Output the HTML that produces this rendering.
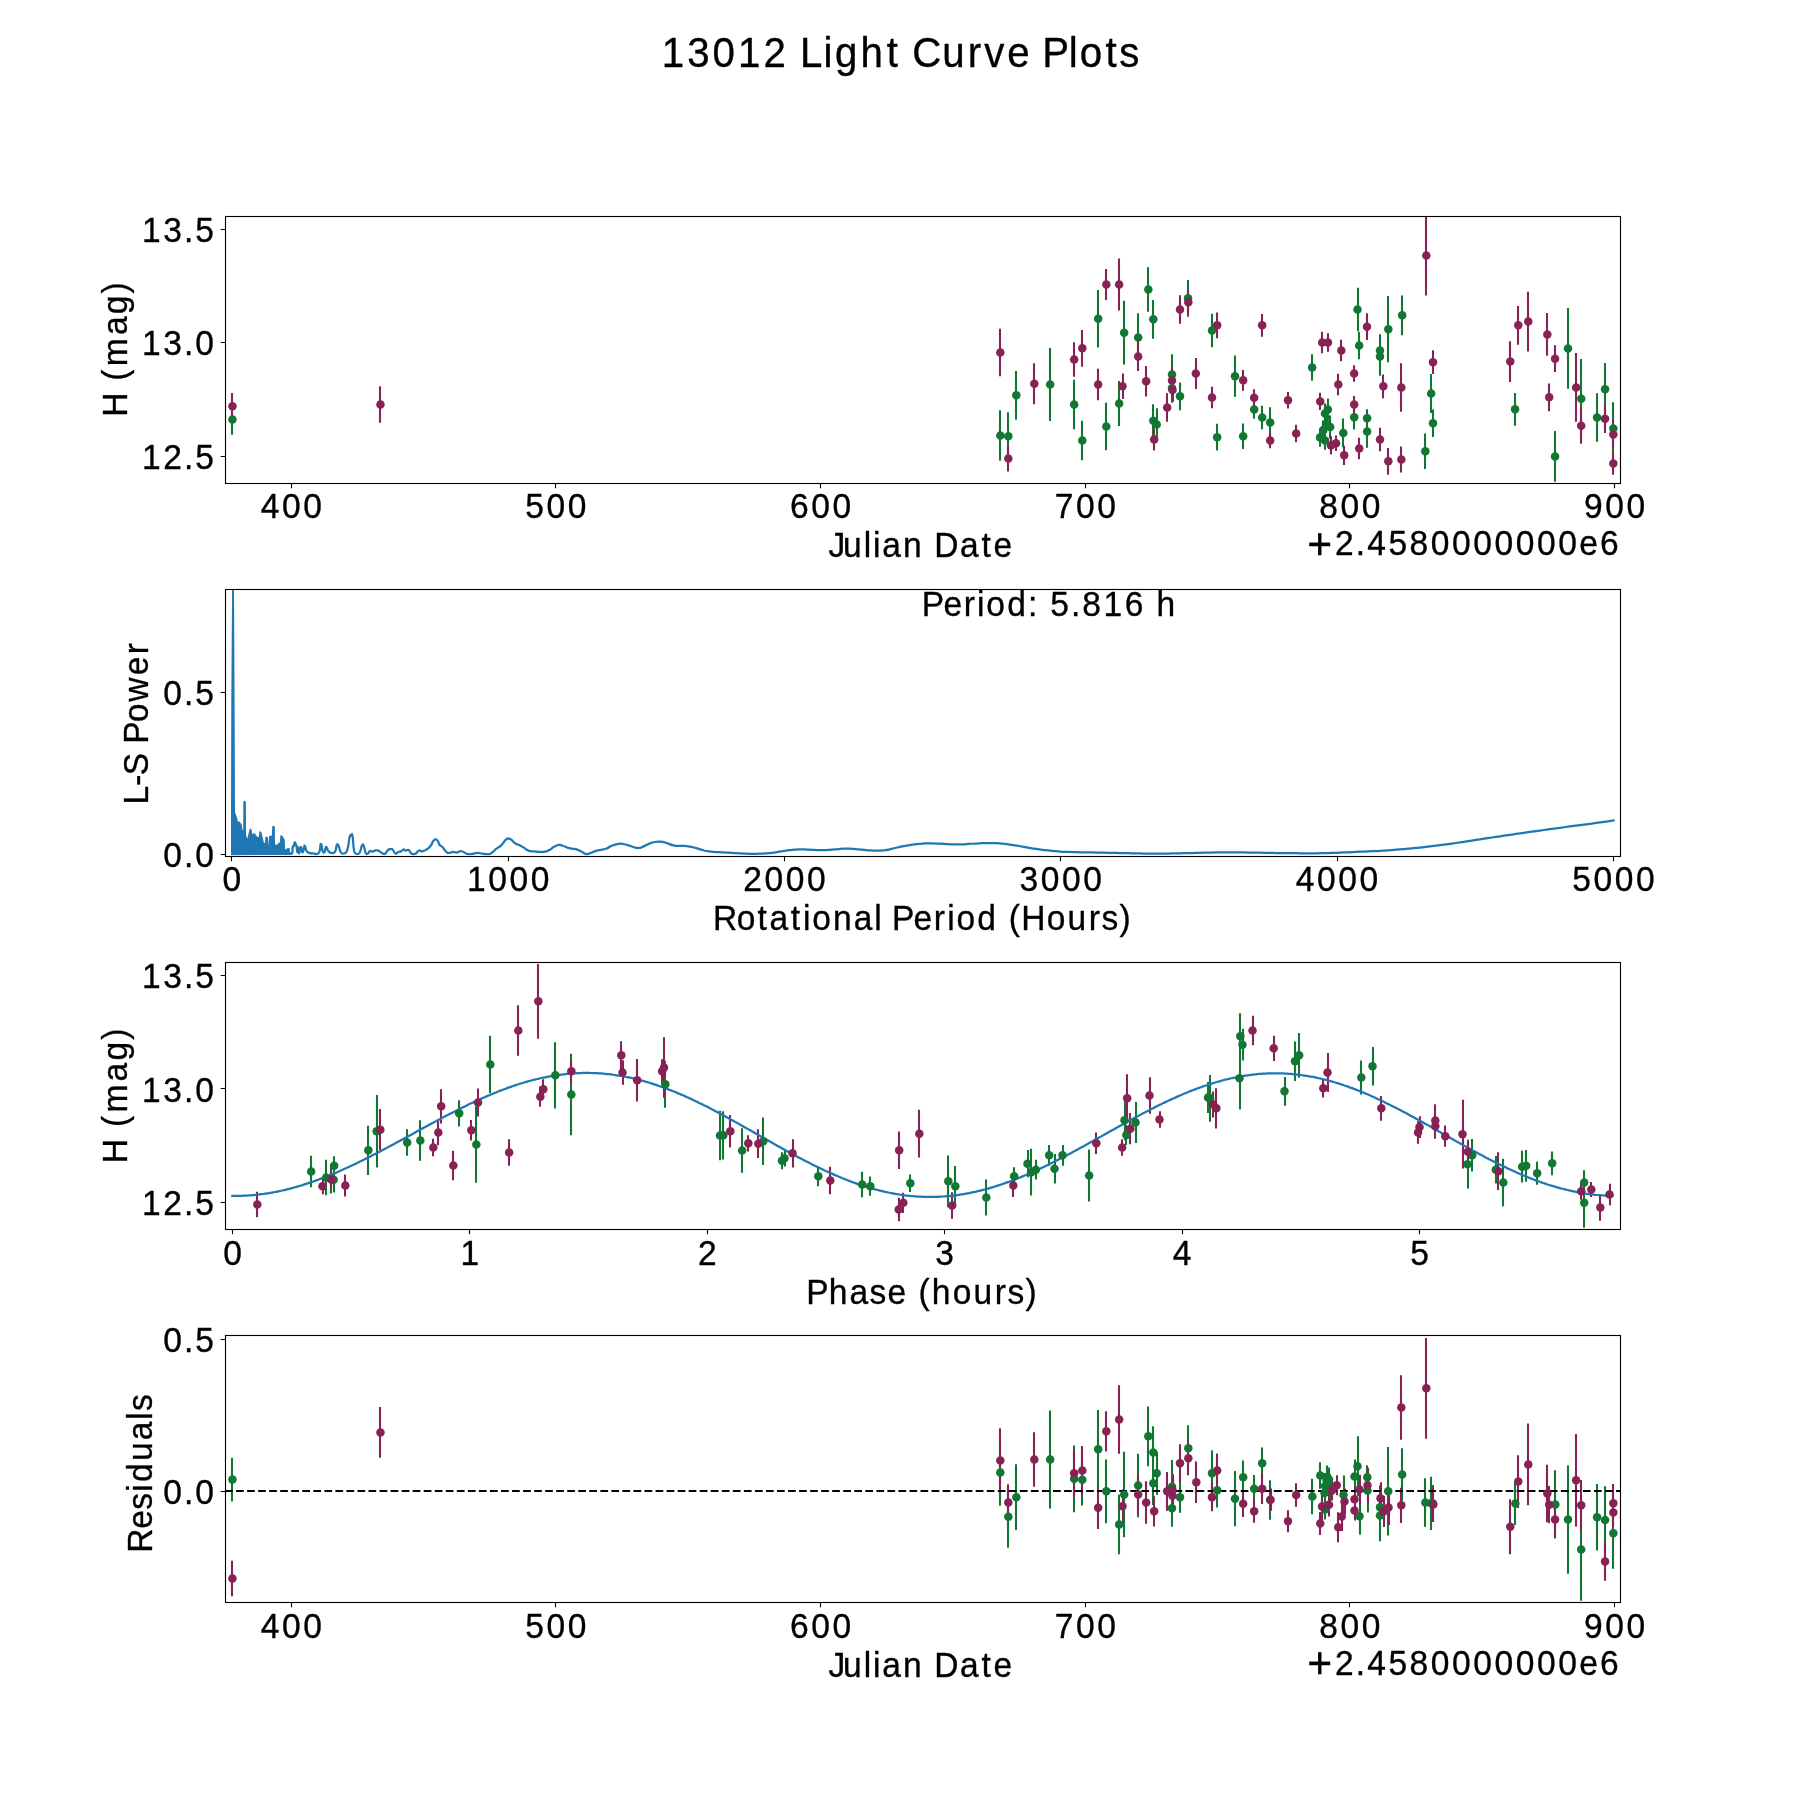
<!DOCTYPE html>
<html lang="en"><head><meta charset="utf-8"><title>13012 Light Curve Plots</title>
<style>html,body{margin:0;padding:0;background:#fff}svg{display:block;will-change:transform}text{font-family:"Liberation Sans",sans-serif;fill:#000;stroke:#000;stroke-width:.35px}</style></head><body>
<svg width="1800" height="1800" viewBox="0 0 1800 1800">
<rect width="1800" height="1800" fill="#fff"/>
<defs>
<clipPath id="c0"><rect x="225" y="216" width="1395" height="266.54"/></clipPath>
<clipPath id="c1"><rect x="225" y="589.15" width="1395" height="266.54"/></clipPath>
<clipPath id="c2"><rect x="225" y="962.31" width="1395" height="266.54"/></clipPath>
<clipPath id="c3"><rect x="225" y="1335.46" width="1395" height="266.54"/></clipPath>
</defs>
<g clip-path="url(#c0)">
<path d="M1000 410.25V460.75M1008 412.16V460.5M1016 370.91V419.75M1050 348V421M1074 379.67V429.33M1082 420.83V460.17M1098 289.92V347.42M1106 402.75V450.25M1119 381V426M1124 300.84V364.5M1138 313.33V361.67M1148 267.25V311.75M1153 300V338.66M1153 404.16V437.5M1157 408.25V440.75M1172 354.17V394.83M1172 373.83V402.83M1180 382.41V410.25M1188 280V316.66M1212 313.67V347.33M1217 423.84V450.5M1235 355.5V396.84M1243 423.58V449.08M1254 400.17V418.83M1262 405.75V429.25M1270 407.17V437.83M1312 354.17V380.83M1358 287.67V331.33M1359 331.67V359.33M1380 334.17V366.83M1380 337.17V375.83M1388 296V362.34M1402 295.5V335.16M1425 433.58V469.08M1431 373.92V413.08M1433 409.58V437.08M1328 398.4V420.4M1325 403.5V423.5M1330 415.4V438.6M1326 415V433M1323 420.4V439.6M1320 428.2V446.8M1325 431.4V449.8M1343 418.6V447.2M1354 405.1V429.5M1367 409.2V427.4M1367 415.3V447.7M1515 393V425.66M1555 430.93V481.87M1568 308V388.8M1581 359.07V438.27M1597 393.33V441.87M1605 363.06V415.6M1613 402.13V454.67M232 404.2V434.8" stroke="#117733" stroke-width="2.08" fill="none"/>
<path d="M1000 328.75V376.25M1008 445.58V471.42M1034 363.17V404.17M1074 342.25V376.75M1082 330V366.66M1098 368.83V400.17M1106 269.08V299.92M1119 258.5V310.5M1123 373.58V399.08M1138 341.92V371.08M1146 366.08V396.58M1154 428.42V450.58M1167 393.17V421.83M1172 366.67V394.33M1173 378.33V401.67M1180 295.17V323.83M1188 289.67V314.67M1196 358V389M1212 386.67V408.33M1217 312.5V338.16M1243 369.91V390.75M1254 389.17V406.17M1262 313.91V336.75M1270 432.67V448.33M1288 392.08V408.58M1296 424.75V442.25M1322 331.83V353.17M1328 333.17V351.83M1338 373.83V395.17M1341 339.67V361.33M1344 445.66V465M1354 365.17V381.83M1367 313.34V340M1380 427.83V451.17M1383 374.5V398.16M1388 448V474.66M1401 363.17V411.83M1401 446.58V472.42M1426 215.5V295.5M1433 350.34V374M1320 392.75V410.05M1331 436.2V454.6M1336 435.6V451M1354 396.1V412.7M1359 437.7V459.3M1510 341.2V382M1518 306V344.66M1528 291.67V351.53M1547 313.07V355.73M1549 383.53V411.13M1555 345.34V372M1576 353.07V421.87M1581 407.73V443.73M1605 404.4V432.94M1613 420V448.8M1613 452.53V474.67M232 393V419.6M380 386.2V422.8" stroke="#882255" stroke-width="2.08" fill="none"/>
<g fill="#117733"><circle cx="1000.33" cy="435.5" r="4.25"/><circle cx="1008.33" cy="436.33" r="4.25"/><circle cx="1016.33" cy="395.33" r="4.25"/><circle cx="1050.17" cy="384.5" r="4.25"/><circle cx="1074.17" cy="404.5" r="4.25"/><circle cx="1082.33" cy="440.5" r="4.25"/><circle cx="1098.17" cy="318.67" r="4.25"/><circle cx="1106.33" cy="426.5" r="4.25"/><circle cx="1119.17" cy="403.5" r="4.25"/><circle cx="1124.17" cy="332.67" r="4.25"/><circle cx="1138.17" cy="337.5" r="4.25"/><circle cx="1148.33" cy="289.5" r="4.25"/><circle cx="1153.33" cy="319.33" r="4.25"/><circle cx="1153.33" cy="420.83" r="4.25"/><circle cx="1156.67" cy="424.5" r="4.25"/><circle cx="1172" cy="374.5" r="4.25"/><circle cx="1172" cy="388.33" r="4.25"/><circle cx="1180" cy="396.33" r="4.25"/><circle cx="1188" cy="298.33" r="4.25"/><circle cx="1212" cy="330.5" r="4.25"/><circle cx="1217.17" cy="437.17" r="4.25"/><circle cx="1235" cy="376.17" r="4.25"/><circle cx="1243.17" cy="436.33" r="4.25"/><circle cx="1254.17" cy="409.5" r="4.25"/><circle cx="1262.17" cy="417.5" r="4.25"/><circle cx="1270.17" cy="422.5" r="4.25"/><circle cx="1312.17" cy="367.5" r="4.25"/><circle cx="1357.5" cy="309.5" r="4.25"/><circle cx="1359.17" cy="345.5" r="4.25"/><circle cx="1380" cy="350.5" r="4.25"/><circle cx="1380" cy="356.5" r="4.25"/><circle cx="1388.33" cy="329.17" r="4.25"/><circle cx="1402.17" cy="315.33" r="4.25"/><circle cx="1425.33" cy="451.33" r="4.25"/><circle cx="1431.17" cy="393.5" r="4.25"/><circle cx="1433" cy="423.33" r="4.25"/><circle cx="1327.9" cy="409.4" r="4.25"/><circle cx="1325" cy="413.5" r="4.25"/><circle cx="1330.2" cy="427" r="4.25"/><circle cx="1326" cy="424" r="4.25"/><circle cx="1323.3" cy="430" r="4.25"/><circle cx="1320" cy="437.5" r="4.25"/><circle cx="1325" cy="440.6" r="4.25"/><circle cx="1343.3" cy="432.9" r="4.25"/><circle cx="1354.2" cy="417.3" r="4.25"/><circle cx="1367.1" cy="418.3" r="4.25"/><circle cx="1367.1" cy="431.5" r="4.25"/><circle cx="1515.07" cy="409.33" r="4.25"/><circle cx="1555.07" cy="456.4" r="4.25"/><circle cx="1568" cy="348.4" r="4.25"/><circle cx="1581.2" cy="398.67" r="4.25"/><circle cx="1597.07" cy="417.6" r="4.25"/><circle cx="1605.07" cy="389.33" r="4.25"/><circle cx="1613.33" cy="428.4" r="4.25"/><circle cx="232.45" cy="419.5" r="4.25"/></g>
<g fill="#882255"><circle cx="1000.33" cy="352.5" r="4.25"/><circle cx="1008.33" cy="458.5" r="4.25"/><circle cx="1034.33" cy="383.67" r="4.25"/><circle cx="1074.17" cy="359.5" r="4.25"/><circle cx="1082.33" cy="348.33" r="4.25"/><circle cx="1098.17" cy="384.5" r="4.25"/><circle cx="1106.33" cy="284.5" r="4.25"/><circle cx="1119.17" cy="284.5" r="4.25"/><circle cx="1122.5" cy="386.33" r="4.25"/><circle cx="1138.17" cy="356.5" r="4.25"/><circle cx="1146.17" cy="381.33" r="4.25"/><circle cx="1154.17" cy="439.5" r="4.25"/><circle cx="1167.17" cy="407.5" r="4.25"/><circle cx="1172" cy="380.5" r="4.25"/><circle cx="1172.5" cy="390" r="4.25"/><circle cx="1180" cy="309.5" r="4.25"/><circle cx="1188.33" cy="302.17" r="4.25"/><circle cx="1195.83" cy="373.5" r="4.25"/><circle cx="1212" cy="397.5" r="4.25"/><circle cx="1217.17" cy="325.33" r="4.25"/><circle cx="1243.17" cy="380.33" r="4.25"/><circle cx="1254.17" cy="397.67" r="4.25"/><circle cx="1262.17" cy="325.33" r="4.25"/><circle cx="1270.17" cy="440.5" r="4.25"/><circle cx="1288" cy="400.33" r="4.25"/><circle cx="1296.17" cy="433.5" r="4.25"/><circle cx="1322.17" cy="342.5" r="4.25"/><circle cx="1328" cy="342.5" r="4.25"/><circle cx="1338.33" cy="384.5" r="4.25"/><circle cx="1341.33" cy="350.5" r="4.25"/><circle cx="1344.17" cy="455.33" r="4.25"/><circle cx="1354.17" cy="373.5" r="4.25"/><circle cx="1367" cy="326.67" r="4.25"/><circle cx="1380" cy="439.5" r="4.25"/><circle cx="1383.33" cy="386.33" r="4.25"/><circle cx="1388.33" cy="461.33" r="4.25"/><circle cx="1401.33" cy="387.5" r="4.25"/><circle cx="1401.33" cy="459.5" r="4.25"/><circle cx="1426.33" cy="255.5" r="4.25"/><circle cx="1433" cy="362.17" r="4.25"/><circle cx="1320.25" cy="401.4" r="4.25"/><circle cx="1331" cy="445.4" r="4.25"/><circle cx="1336" cy="443.3" r="4.25"/><circle cx="1354.2" cy="404.4" r="4.25"/><circle cx="1359.2" cy="448.5" r="4.25"/><circle cx="1510.27" cy="361.6" r="4.25"/><circle cx="1518.27" cy="325.33" r="4.25"/><circle cx="1528.27" cy="321.6" r="4.25"/><circle cx="1547.33" cy="334.4" r="4.25"/><circle cx="1549.2" cy="397.33" r="4.25"/><circle cx="1555.07" cy="358.67" r="4.25"/><circle cx="1576.13" cy="387.47" r="4.25"/><circle cx="1581.2" cy="425.73" r="4.25"/><circle cx="1605.07" cy="418.67" r="4.25"/><circle cx="1613.33" cy="434.4" r="4.25"/><circle cx="1613.33" cy="463.6" r="4.25"/><circle cx="232.45" cy="406.3" r="4.25"/><circle cx="380.45" cy="404.5" r="4.25"/></g>
</g>
<g clip-path="url(#c1)">
<path d="M231 855.2L231 808L231.3 700L232.1 588L234 588L234.6 700L235 812.22L236.67 816.67L238.06 821.67L239.44 821.39L241.67 824.44L242.5 829.72L243.22 829.72L243.33 801.94L243.89 801L244.56 800.83L245.22 801L245.89 801.94L246 834.44L247.22 838.89L248.33 834.44L249.44 829.44L250.56 828.61L251.67 829.44L252.22 833.89L254.44 833.06L257.22 836.67L258.89 836.94L259.17 832.22L260.28 831.11L261.39 832.22L262.22 835.56L263.89 842.78L265 843.06L265.28 837.5L266.39 836.39L268.06 837.5L268.33 846.11L269.17 836.11L271.94 835.56L272.22 826.67L273.5 825.56L274.83 826.67L275 843.89L276.67 845L278.89 842.78L280 842.22L280.28 836.11L281.39 835L283.33 837.22L284.72 840L285 846.67L285.56 849.72L287.78 848.06L289.44 848.06L290 851.94L290 854.89 Z" fill="#1f77b4" stroke="none"/>
<path d="M290 853.22C290.59 853.19 291.51 854.74 292.22 853.11C292.93 851.48 292.22 849.01 292.67 847.11C293.11 845.21 293.34 847.26 293.89 846C294.44 844.74 294.2 842.8 294.72 842.39C295.24 841.97 295.31 843.21 295.83 844.44C296.35 845.67 296.3 844.96 296.67 847C297.04 849.04 296.99 851.79 297.22 852.11C297.46 852.44 297.38 849.44 297.56 848.22C297.73 847.01 297.65 846.52 297.89 847.56C298.13 848.59 298.03 850.75 298.44 852.11C298.86 853.47 298.96 853.88 299.44 852.67C299.93 851.45 299.69 848.71 300.28 847.56C300.87 846.4 301.12 847.04 301.67 848.33C302.21 849.62 301.74 852.15 302.33 852.39C302.93 852.63 303.25 851.03 303.89 849.22C304.53 847.41 304 845.14 304.72 845.61C305.45 846.09 305.35 849.06 306.61 851C307.87 852.94 307.68 852.24 309.44 852.89C311.21 853.54 310.7 853.46 313.22 853.46C315.74 853.46 316.87 855.46 318.89 852.89C320.9 850.32 319.77 844.33 320.78 843.82C321.79 843.32 321.66 848.84 322.67 851C323.67 853.17 323.65 853.05 324.56 851.95C325.46 850.84 325.06 847.1 326.07 846.85C327.07 846.59 326.97 849.39 328.33 851C329.69 852.61 329.4 852.64 331.17 852.89C332.93 853.14 333.43 854.06 334.95 851.95C336.46 849.83 335.83 846.47 336.83 844.96C337.84 843.45 337.72 844.42 338.72 846.28C339.73 848.14 339.35 850.03 340.61 851.95C341.87 853.86 341.68 853.96 343.45 853.46C345.21 852.95 345.61 854.24 347.22 850.06C348.84 845.88 348.48 841.66 349.49 837.78C350.5 833.9 350.2 836.02 351 835.51C351.81 835.01 351.76 832.26 352.51 835.89C353.27 839.52 352.98 844.43 353.83 849.11C354.69 853.8 354.21 852.45 355.72 853.46C357.23 854.46 357.84 855.06 359.5 852.89C361.16 850.72 360.8 847.1 361.96 845.33C363.12 843.57 362.84 844.26 363.85 846.28C364.85 848.29 364.63 850.98 365.73 852.89C366.84 854.8 366.89 853.96 368 853.46C369.11 852.95 368.63 851.5 369.89 851C371.15 850.5 371.21 851.72 372.72 851.57C374.23 851.42 374.05 850.69 375.56 850.43C377.07 850.18 376.88 850.07 378.39 850.62C379.9 851.18 379.46 851.66 381.22 852.51C382.99 853.37 383.24 854.49 385 853.83C386.76 853.18 386.32 851.32 387.84 850.06C389.35 848.8 389.41 849.26 390.67 849.11C391.93 848.96 391.3 848.33 392.56 849.49C393.82 850.65 393.88 852.8 395.39 853.46C396.9 854.11 396.71 852.5 398.22 851.95C399.74 851.39 399.65 852.03 401.06 851.38C402.47 850.72 402.25 849.69 403.51 849.49C404.77 849.29 404.42 850.47 405.78 850.62C407.14 850.77 407.1 849.3 408.61 850.06C410.12 850.81 409.68 852.45 411.45 853.46C413.21 854.46 413.21 854.64 415.22 853.83C417.24 853.03 417.24 851.09 419 850.43C420.77 849.78 420.07 851.48 421.84 851.38C423.6 851.28 423.35 851.42 425.61 850.06C427.88 848.7 428.32 848.65 430.34 846.28C432.35 843.91 431.81 843.04 433.17 841.18C434.53 839.31 434.28 839.44 435.44 839.29C436.59 839.14 436.36 839.1 437.51 840.61C438.67 842.12 438.42 843.19 439.78 844.96C441.14 846.72 440.85 845.36 442.61 847.22C444.38 849.09 444.63 850.43 446.39 851.95C448.16 853.46 447.46 852.89 449.23 852.89C450.99 852.89 450.99 852.05 453 851.95C455.02 851.84 454.77 852.71 456.78 852.51C458.8 852.31 458.8 851.34 460.56 851.19C462.32 851.04 461.63 851.24 463.39 851.95C465.16 852.65 464.9 853.28 467.17 853.83C469.44 854.39 469.12 854.28 471.89 854.02C474.66 853.77 474.79 852.99 477.56 852.89C480.33 852.79 479.76 853.34 482.28 853.65C484.8 853.95 484.74 854.07 487 854.02C489.27 853.97 488.26 854.87 490.78 853.46C493.3 852.05 493.68 850.9 496.45 848.73C499.22 846.57 498.65 847.75 501.17 845.33C503.69 842.92 503.98 841.48 505.89 839.67C507.81 837.85 506.94 838.53 508.35 838.53C509.76 838.53 509.32 838.36 511.18 839.67C513.05 840.98 513.22 842.04 515.34 843.45C517.45 844.86 516.85 843.85 519.12 844.96C521.38 846.06 521.32 846.09 523.84 847.6C526.36 849.11 525.79 849.62 528.56 850.62C531.33 851.63 531.21 851.03 534.23 851.38C537.25 851.73 536.87 851.9 539.89 851.95C542.92 852 543.04 852.07 545.56 851.57C548.08 851.06 547.07 851.32 549.34 850.06C551.61 848.8 551.54 848.21 554.06 846.85C556.58 845.49 556.52 845.26 558.78 844.96C561.05 844.65 560.29 845.01 562.56 845.71C564.83 846.42 564.77 846.8 567.28 847.6C569.8 848.41 569.74 848.33 572.01 848.73C574.27 849.14 573.52 848.51 575.78 849.11C578.05 849.72 577.99 849.74 580.51 851C583.02 852.26 582.96 853.13 585.23 853.83C587.5 854.54 586.49 854.3 589.01 853.65C591.52 852.99 591.9 852.34 594.67 851.38C597.44 850.42 596.37 850.76 599.4 850.06C602.42 849.35 602.73 849.89 606.01 848.73C609.28 847.58 608.4 847.02 611.67 845.71C614.95 844.4 615.26 844.28 618.28 843.82C621.31 843.37 620.24 843.61 623.01 844.01C625.78 844.42 625.8 844.48 628.67 845.33C631.55 846.19 631.16 846.52 633.78 847.22C636.4 847.93 635.98 848.13 638.5 847.98C641.02 847.83 639.95 847.97 643.22 846.66C646.5 845.35 646.75 844.43 650.78 843.07C654.81 841.71 654.56 841.71 658.33 841.56C662.11 841.41 660.92 841.49 664.95 842.5C668.97 843.51 669.16 844.43 673.45 845.33C677.73 846.24 676.97 845.65 681 845.9C685.03 846.15 684.53 845.67 688.56 846.28C692.59 846.88 691.99 847.05 696.11 848.17C700.23 849.29 700.56 849.62 704 850.47C707.44 851.33 706.33 850.98 709 851.37C711.67 851.75 711.33 851.7 714 851.92C716.67 852.15 716.33 852.07 719 852.22C721.67 852.37 721.33 852.35 724 852.49C726.67 852.63 726.33 852.6 729 852.74C731.67 852.88 731.33 852.86 734 853.02C736.67 853.18 736.33 853.19 739 853.36C741.67 853.53 741.33 853.55 744 853.66C746.67 853.77 746.33 853.72 749 853.76C751.67 853.8 751.33 853.83 754 853.81C756.67 853.8 756.33 853.79 759 853.71C761.67 853.63 761.33 853.67 764 853.51C766.67 853.34 766.33 853.37 769 853.1C771.67 852.84 771.33 852.89 774 852.52C776.67 852.15 776.33 852.14 779 851.72C781.67 851.29 781.33 851.35 784 850.92C786.67 850.49 786.33 850.45 789 850.11C791.67 849.78 791.33 849.86 794 849.66C796.67 849.46 796.33 849.41 799 849.35C801.67 849.3 801.33 849.38 804 849.46C806.67 849.54 806.33 849.54 809 849.66C811.67 849.78 811.33 849.77 814 849.91C816.67 850.04 816.33 850.11 819 850.17C821.67 850.23 821.33 850.18 824 850.12C826.67 850.05 826.33 850.1 829 849.93C831.67 849.76 831.33 849.73 834 849.49C836.67 849.25 836.33 849.23 839 849.03C841.67 848.83 841.33 848.84 844 848.74C846.67 848.64 846.33 848.59 849 848.65C851.67 848.71 851.33 848.77 854 848.95C856.67 849.14 856.33 849.1 859 849.34C861.67 849.58 861.33 849.59 864 849.85C866.67 850.1 866.33 850.1 869 850.31C871.67 850.51 871.33 850.5 874 850.61C876.67 850.71 876.33 850.78 879 850.69C881.67 850.61 881.33 850.59 884 850.29C886.67 849.98 886.33 850.08 889 849.54C891.67 849.01 891.33 848.93 894 848.28C896.67 847.62 897.4 847.46 899 847.09C900.6 846.72 897.6 847.35 900 846.88C902.4 846.41 903.73 846.04 908 845.32C912.27 844.59 911.73 844.64 916 844.15C920.27 843.66 919.73 843.7 924 843.48C928.27 843.27 927.73 843.3 932 843.35C936.27 843.4 935.73 843.45 940 843.67C944.27 843.89 943.73 843.95 948 844.16C952.27 844.38 951.73 844.45 956 844.48C960.27 844.51 959.73 844.46 964 844.27C968.27 844.07 967.73 844.02 972 843.75C976.27 843.49 975.73 843.46 980 843.27C984.27 843.07 983.73 843.04 988 843.03C992.27 843.01 991.73 842.99 996 843.21C1000.27 843.44 999.73 843.42 1004 843.88C1008.27 844.34 1007.73 844.31 1012 844.94C1016.27 845.57 1015.73 845.53 1020 846.24C1024.27 846.95 1023.73 846.9 1028 847.61C1032.27 848.33 1031.73 848.27 1036 848.93C1040.27 849.58 1039.73 849.52 1044 850.06C1048.27 850.59 1047.73 850.54 1052 850.93C1056.27 851.32 1055.73 851.27 1060 851.53C1064.27 851.79 1063.73 851.74 1068 851.91C1072.27 852.07 1071.73 852.04 1076 852.15C1080.27 852.27 1079.73 852.25 1084 852.33C1088.27 852.42 1087.73 852.4 1092 852.48C1096.27 852.56 1095.73 852.55 1100 852.63C1104.27 852.72 1103.73 852.71 1108 852.81C1112.27 852.9 1111.73 852.89 1116 852.98C1120.27 853.07 1119.73 853.06 1124 853.15C1128.27 853.23 1127.73 853.22 1132 853.3C1136.27 853.38 1135.73 853.38 1140 853.45C1144.27 853.52 1143.73 853.52 1148 853.57C1152.27 853.61 1151.73 853.61 1156 853.61C1160.27 853.61 1159.73 853.6 1164 853.56C1168.27 853.52 1167.73 853.53 1172 853.46C1176.27 853.4 1175.73 853.4 1180 853.32C1184.27 853.23 1183.73 853.24 1188 853.14C1192.27 853.04 1191.73 853.04 1196 852.94C1200.27 852.84 1199.73 852.84 1204 852.74C1208.27 852.64 1207.73 852.65 1212 852.56C1216.27 852.48 1215.73 852.48 1220 852.42C1224.27 852.37 1223.73 852.38 1228 852.36C1232.27 852.35 1231.73 852.35 1236 852.38C1240.27 852.4 1239.73 852.4 1244 852.45C1248.27 852.51 1247.73 852.5 1252 852.58C1256.27 852.66 1255.73 852.66 1260 852.74C1264.27 852.83 1263.73 852.83 1268 852.91C1272.27 852.98 1271.73 852.98 1276 853.03C1280.27 853.09 1279.73 853.07 1284 853.1C1288.27 853.14 1287.73 853.13 1292 853.18C1296.27 853.23 1295.73 853.24 1300 853.29C1304.27 853.34 1303.73 853.35 1308 853.35C1312.27 853.35 1311.73 853.35 1316 853.29C1320.27 853.23 1319.73 853.23 1324 853.13C1328.27 853.03 1327.73 853.04 1332 852.9C1336.27 852.76 1335.73 852.78 1340 852.6C1344.27 852.43 1343.73 852.44 1348 852.26C1352.27 852.07 1351.73 852.09 1356 851.91C1360.27 851.72 1359.73 851.75 1364 851.57C1368.27 851.38 1367.73 851.41 1372 851.21C1376.27 851 1375.73 851.04 1380 850.79C1384.27 850.55 1383.73 850.58 1388 850.3C1392.27 850.01 1391.73 850.05 1396 849.72C1400.27 849.39 1399.73 849.43 1404 849.06C1408.27 848.69 1407.73 848.75 1412 848.33C1416.27 847.92 1415.73 847.98 1420 847.52C1424.27 847.06 1423.73 847.12 1428 846.62C1432.27 846.13 1431.73 846.19 1436 845.66C1440.27 845.13 1439.73 845.2 1444 844.64C1448.27 844.08 1447.73 844.16 1452 843.56C1456.27 842.97 1455.73 843.04 1460 842.41C1464.27 841.78 1463.73 841.85 1468 841.19C1472.27 840.53 1471.73 840.61 1476 839.95C1480.27 839.29 1479.73 839.37 1484 838.72C1488.27 838.07 1487.73 838.16 1492 837.51C1496.27 836.87 1495.73 836.95 1500 836.31C1504.27 835.67 1503.73 835.75 1508 835.12C1512.27 834.48 1511.73 834.56 1516 833.94C1520.27 833.31 1519.73 833.39 1524 832.78C1528.27 832.18 1527.73 832.26 1532 831.66C1536.27 831.07 1535.73 831.15 1540 830.56C1544.27 829.97 1543.73 830.04 1548 829.46C1552.27 828.87 1551.73 828.94 1556 828.36C1560.27 827.77 1559.73 827.84 1564 827.26C1568.27 826.67 1567.73 826.74 1572 826.17C1576.27 825.59 1575.73 825.66 1580 825.09C1584.27 824.53 1583.73 824.61 1588 824.04C1592.27 823.48 1591.73 823.56 1596 822.97C1600.27 822.39 1599.73 822.46 1604 821.85C1608.27 821.24 1609.35 821.08 1612 820.69C1614.65 820.3 1613.43 820.48 1613.95 820.4" fill="none" stroke="#1f77b4" stroke-width="2.25" stroke-linejoin="round" stroke-linecap="butt"/>
</g>
<g clip-path="url(#c2)">
<path d="M311 1155.83V1187.17M326 1159.75V1195.25M334 1156.33V1175.33M334 1166.84V1192.5M368 1125.66V1175M377 1095.08V1167.58M407 1129.17V1155.83M420 1120.25V1160.75M459 1100.16V1126.5M476 1106.17V1182.83M490 1035.75V1093.25M331 1164V1193.6M555 1042.25V1108.41M571 1053.83V1135.17M665 1060.67V1107.67M720 1110.83V1160.17M723 1111.16V1159.5M742 1128.25V1172.75M763 1117.42V1164.92M782 1152.33V1169.33M785 1150.25V1166.41M818 1166.33V1186.33M862 1171.75V1197.25M870 1176.5V1195.84M910 1174.58V1192.08M948 1155.5V1207.16M955 1166.08V1206.58M986 1179.58V1215.42M1014 1167.16V1185.5M1028 1150V1177.34M1031 1148.84V1195.5M1036 1159.84V1179.5M1049 1144.91V1165.75M1055 1153.92V1183.42M1063 1144.91V1165.75M1089 1149.42V1201.58M1125 1100.33V1140.33M1126 1125V1145M1136 1102.08V1142.92M1208 1082.08V1112.92M1210 1075V1121.66M1240 1047.08V1109.58M1240 1013.33V1059.33M1243 1028.84V1060.5M1285 1077V1105.66M1295 1041.58V1081.08M1299 1032.91V1077.75M1361 1060.58V1094.42M1373 1047.08V1085.58M1468 1139.84V1188.5M1472 1139.08V1171.58M1496 1155.92V1183.42M1503 1158.75V1206.25M1522 1150.84V1182.5M1526 1150V1181.66M1537 1161.83V1184.83M1552 1151.41V1175.25M1584 1170.33V1194.67M1584 1177.83V1227.83" stroke="#117733" stroke-width="2.08" fill="none"/>
<path d="M257 1191.75V1217.25M323 1178V1194.34M331 1170.75V1188.25M345 1174.42V1196.58M380 1109V1150.34M433 1138.75V1156.25M438 1119.75V1145.25M441 1089.25V1123.41M453 1150.67V1180.33M471 1120.08V1140.58M478 1088.5V1116.5M509 1139.17V1165.83M518 1005.25V1055.75M538 964V1038.66M540 1086.67V1106.67M543 1079.17V1099.17M571 1059.91V1082.75M621 1041.33V1069.33M623 1060.33V1084.67M637 1059.08V1101.58M662 1059.16V1083.5M664 1037.33V1097.67M730 1115.08V1147.58M748 1135.16V1151.5M758 1129.34V1158M793 1139.16V1167.5M830 1166.67V1194.33M899 1131.58V1169.08M899 1197.67V1221.33M903 1192.66V1213M919 1109.75V1157.59M952 1192.25V1218.75M1013 1174V1197M1096 1132.58V1154.08M1122 1139.17V1155.83M1127 1074.16V1122.5M1130 1113.09V1144.25M1150 1077.17V1113.83M1160 1111.25V1127.75M1213 1091.42V1117.58M1216 1088.16V1128.5M1253 1015.67V1045.33M1274 1035.75V1060.91M1323 1079.16V1097.5M1328 1053.08V1091.92M1381 1096V1120.66M1418 1121.17V1143.83M1420 1116.34V1138M1435 1104.17V1136.83M1435 1113.83V1138.83M1445 1125.5V1146.84M1463 1099.84V1168.5M1468 1141.67V1161.67M1498 1152.25V1190.09M1581 1182.67V1199.67M1591 1182.08V1196.92M1600 1194.17V1220.83M1610 1183.67V1205.33" stroke="#882255" stroke-width="2.08" fill="none"/>
<path d="M231.2 1195.83C233.2 1195.84 233.2 1195.9 237.2 1195.86C241.2 1195.82 239.2 1195.87 243.2 1195.72C247.2 1195.56 245.2 1195.67 249.2 1195.39C253.2 1195.12 251.2 1195.28 255.2 1194.89C259.2 1194.5 257.2 1194.73 261.2 1194.22C265.2 1193.71 263.2 1193.99 267.2 1193.37C271.2 1192.75 269.2 1193.09 273.2 1192.36C277.2 1191.62 275.2 1192.02 279.2 1191.17C283.2 1190.33 281.2 1190.78 285.2 1189.83C289.2 1188.88 287.2 1189.38 291.2 1188.33C295.2 1187.28 293.2 1187.83 297.2 1186.67C301.2 1185.52 299.2 1186.12 303.2 1184.87C307.2 1183.62 305.2 1184.26 309.2 1182.92C313.2 1181.58 311.2 1182.27 315.2 1180.84C319.2 1179.4 317.2 1180.14 321.2 1178.62C325.2 1177.1 323.2 1177.88 327.2 1176.28C331.2 1174.68 329.2 1175.5 333.2 1173.82C337.2 1172.15 335.2 1173 339.2 1171.25C343.2 1169.51 341.2 1170.39 345.2 1168.58C349.2 1166.77 347.2 1167.69 351.2 1165.81C355.2 1163.94 353.2 1164.89 357.2 1162.95C361.2 1161.02 359.2 1162 363.2 1160.02C367.2 1158.03 365.2 1159.03 369.2 1157.01C373.2 1154.98 371.2 1156 375.2 1153.93C379.2 1151.86 377.2 1152.9 381.2 1150.8C385.2 1148.7 383.2 1149.76 387.2 1147.63C391.2 1145.5 389.2 1146.57 393.2 1144.41C397.2 1142.26 395.2 1143.34 399.2 1141.17C403.2 1139 401.2 1140.09 405.2 1137.91C409.2 1135.73 407.2 1136.82 411.2 1134.64C415.2 1132.45 413.2 1133.54 417.2 1131.36C421.2 1129.18 419.2 1130.27 423.2 1128.1C427.2 1125.92 425.2 1127 429.2 1124.85C433.2 1122.69 431.2 1123.76 435.2 1121.62C439.2 1119.48 437.2 1120.54 441.2 1118.43C445.2 1116.32 443.2 1117.36 447.2 1115.28C451.2 1113.2 449.2 1114.23 453.2 1112.19C457.2 1110.15 455.2 1111.16 459.2 1109.16C463.2 1107.16 461.2 1108.15 465.2 1106.2C469.2 1104.25 467.2 1105.21 471.2 1103.31C475.2 1101.42 473.2 1102.35 477.2 1100.52C481.2 1098.69 479.2 1099.58 483.2 1097.82C487.2 1096.05 485.2 1096.91 489.2 1095.22C493.2 1093.52 491.2 1094.35 495.2 1092.73C499.2 1091.11 497.2 1091.9 501.2 1090.36C505.2 1088.83 503.2 1089.57 507.2 1088.12C511.2 1086.67 509.2 1087.37 513.2 1086.01C517.2 1084.65 515.2 1085.3 519.2 1084.04C523.2 1082.77 521.2 1083.38 525.2 1082.21C529.2 1081.04 527.2 1081.6 531.2 1080.53C535.2 1079.47 533.2 1079.97 537.2 1079.01C541.2 1078.05 539.2 1078.5 543.2 1077.65C547.2 1076.8 545.2 1077.2 549.2 1076.46C553.2 1075.72 551.2 1076.06 555.2 1075.43C559.2 1074.81 557.2 1075.09 561.2 1074.58C565.2 1074.07 563.2 1074.29 567.2 1073.9C571.2 1073.51 569.2 1073.68 573.2 1073.4C577.2 1073.13 575.2 1073.24 579.2 1073.09C583.2 1072.94 581.2 1072.98 585.2 1072.95C589.2 1072.92 587.2 1072.91 591.2 1073C595.2 1073.09 593.2 1073.01 597.2 1073.23C601.2 1073.44 599.2 1073.31 603.2 1073.64C607.2 1073.98 605.2 1073.78 609.2 1074.24C613.2 1074.7 611.2 1074.44 615.2 1075.02C619.2 1075.6 617.2 1075.28 621.2 1075.97C625.2 1076.67 623.2 1076.29 627.2 1077.11C631.2 1077.92 629.2 1077.49 633.2 1078.42C637.2 1079.34 635.2 1078.85 639.2 1079.89C643.2 1080.93 641.2 1080.39 645.2 1081.54C649.2 1082.69 647.2 1082.09 651.2 1083.34C655.2 1084.6 653.2 1083.95 657.2 1085.31C661.2 1086.67 659.2 1085.96 663.2 1087.42C667.2 1088.88 665.2 1088.13 669.2 1089.68C673.2 1091.23 671.2 1090.43 675.2 1092.08C679.2 1093.72 677.2 1092.88 681.2 1094.6C685.2 1096.33 683.2 1095.45 687.2 1097.25C691.2 1099.06 689.2 1098.14 693.2 1100.02C697.2 1101.9 695.2 1100.94 699.2 1102.89C703.2 1104.84 701.2 1103.85 705.2 1105.86C709.2 1107.87 707.2 1106.86 711.2 1108.92C715.2 1110.99 713.2 1109.95 717.2 1112.06C721.2 1114.18 719.2 1113.11 723.2 1115.27C727.2 1117.43 725.2 1116.35 729.2 1118.54C733.2 1120.74 731.2 1119.64 735.2 1121.86C739.2 1124.09 737.2 1122.97 741.2 1125.23C745.2 1127.48 743.2 1126.35 747.2 1128.62C751.2 1130.88 749.2 1129.75 753.2 1132.03C757.2 1134.3 755.2 1133.17 759.2 1135.45C763.2 1137.72 761.2 1136.59 765.2 1138.86C769.2 1141.14 767.2 1140 771.2 1142.27C775.2 1144.53 773.2 1143.41 777.2 1145.65C781.2 1147.89 779.2 1146.78 783.2 1149C787.2 1151.22 785.2 1150.12 789.2 1152.3C793.2 1154.49 791.2 1153.41 795.2 1155.56C799.2 1157.7 797.2 1156.64 801.2 1158.74C805.2 1160.85 803.2 1159.81 807.2 1161.86C811.2 1163.91 809.2 1162.9 813.2 1164.89C817.2 1166.88 815.2 1165.91 819.2 1167.83C823.2 1169.76 821.2 1168.82 825.2 1170.67C829.2 1172.53 827.2 1171.62 831.2 1173.4C835.2 1175.18 833.2 1174.32 837.2 1176.02C841.2 1177.72 839.2 1176.89 843.2 1178.5C847.2 1180.12 845.2 1179.34 849.2 1180.86C853.2 1182.38 851.2 1181.65 855.2 1183.07C859.2 1184.5 857.2 1183.82 861.2 1185.14C865.2 1186.47 863.2 1185.84 867.2 1187.06C871.2 1188.29 869.2 1187.7 873.2 1188.82C877.2 1189.94 875.2 1189.41 879.2 1190.42C883.2 1191.43 881.2 1190.95 885.2 1191.85C889.2 1192.75 887.2 1192.33 891.2 1193.11C895.2 1193.89 893.2 1193.53 897.2 1194.19C901.2 1194.86 899.2 1194.56 903.2 1195.1C907.2 1195.65 905.2 1195.4 909.2 1195.83C913.2 1196.25 911.2 1196.07 915.2 1196.37C919.2 1196.68 917.2 1196.56 921.2 1196.74C925.2 1196.92 923.2 1196.86 927.2 1196.91C931.2 1196.97 929.2 1196.97 933.2 1196.91C937.2 1196.84 935.2 1196.91 939.2 1196.72C943.2 1196.53 941.2 1196.65 945.2 1196.35C949.2 1196.04 947.2 1196.22 951.2 1195.79C955.2 1195.36 953.2 1195.61 957.2 1195.06C961.2 1194.51 959.2 1194.81 963.2 1194.15C967.2 1193.48 965.2 1193.84 969.2 1193.06C973.2 1192.28 971.2 1192.7 975.2 1191.81C979.2 1190.91 977.2 1191.39 981.2 1190.38C985.2 1189.38 983.2 1189.91 987.2 1188.8C991.2 1187.69 989.2 1188.27 993.2 1187.05C997.2 1185.84 995.2 1186.47 999.2 1185.16C1003.2 1183.84 1001.2 1184.52 1005.2 1183.11C1009.2 1181.7 1007.2 1182.43 1011.2 1180.93C1015.2 1179.43 1013.2 1180.2 1017.2 1178.61C1021.2 1177.02 1019.2 1177.83 1023.2 1176.16C1027.2 1174.49 1025.2 1175.34 1029.2 1173.59C1033.2 1171.85 1031.2 1172.74 1035.2 1170.91C1039.2 1169.09 1037.2 1170.02 1041.2 1168.13C1045.2 1166.24 1043.2 1167.2 1047.2 1165.25C1051.2 1163.29 1049.2 1164.28 1053.2 1162.27C1057.2 1160.27 1055.2 1161.28 1059.2 1159.22C1063.2 1157.16 1061.2 1158.2 1065.2 1156.1C1069.2 1154 1067.2 1155.05 1071.2 1152.91C1075.2 1150.77 1073.2 1151.85 1077.2 1149.67C1081.2 1147.5 1079.2 1148.59 1083.2 1146.39C1087.2 1144.19 1085.2 1145.29 1089.2 1143.08C1093.2 1140.86 1091.2 1141.97 1095.2 1139.73C1099.2 1137.5 1097.2 1138.62 1101.2 1136.38C1105.2 1134.14 1103.2 1135.26 1107.2 1133.02C1111.2 1130.78 1109.2 1131.89 1113.2 1129.66C1117.2 1127.43 1115.2 1128.54 1119.2 1126.32C1123.2 1124.1 1121.2 1125.2 1125.2 1123C1129.2 1120.8 1127.2 1121.89 1131.2 1119.72C1135.2 1117.55 1133.2 1118.62 1137.2 1116.48C1141.2 1114.34 1139.2 1115.4 1143.2 1113.3C1147.2 1111.19 1145.2 1112.23 1149.2 1110.17C1153.2 1108.12 1151.2 1109.13 1155.2 1107.12C1159.2 1105.12 1157.2 1106.1 1161.2 1104.16C1165.2 1102.21 1163.2 1103.16 1167.2 1101.28C1171.2 1099.39 1169.2 1100.32 1173.2 1098.5C1177.2 1096.68 1175.2 1097.57 1179.2 1095.83C1183.2 1094.09 1181.2 1094.94 1185.2 1093.27C1189.2 1091.61 1187.2 1092.42 1191.2 1090.84C1195.2 1089.27 1193.2 1090.03 1197.2 1088.54C1201.2 1087.06 1199.2 1087.78 1203.2 1086.38C1207.2 1084.99 1205.2 1085.66 1209.2 1084.37C1213.2 1083.08 1211.2 1083.69 1215.2 1082.5C1219.2 1081.31 1217.2 1081.88 1221.2 1080.8C1225.2 1079.72 1223.2 1080.23 1227.2 1079.26C1231.2 1078.28 1229.2 1078.74 1233.2 1077.88C1237.2 1077.02 1235.2 1077.42 1239.2 1076.68C1243.2 1075.94 1241.2 1076.28 1245.2 1075.65C1249.2 1075.03 1247.2 1075.31 1251.2 1074.81C1255.2 1074.31 1253.2 1074.53 1257.2 1074.15C1261.2 1073.77 1259.2 1073.93 1263.2 1073.67C1267.2 1073.42 1265.2 1073.51 1269.2 1073.38C1273.2 1073.26 1271.2 1073.29 1275.2 1073.28C1279.2 1073.28 1277.2 1073.25 1281.2 1073.37C1285.2 1073.5 1283.2 1073.4 1287.2 1073.65C1291.2 1073.9 1289.2 1073.75 1293.2 1074.12C1297.2 1074.49 1295.2 1074.28 1299.2 1074.77C1303.2 1075.27 1301.2 1074.99 1305.2 1075.61C1309.2 1076.24 1307.2 1075.9 1311.2 1076.64C1315.2 1077.38 1313.2 1076.98 1317.2 1077.84C1321.2 1078.7 1319.2 1078.24 1323.2 1079.22C1327.2 1080.2 1325.2 1079.68 1329.2 1080.78C1333.2 1081.87 1331.2 1081.29 1335.2 1082.5C1339.2 1083.7 1337.2 1083.07 1341.2 1084.38C1345.2 1085.69 1343.2 1085.01 1347.2 1086.42C1351.2 1087.83 1349.2 1087.1 1353.2 1088.61C1357.2 1090.12 1355.2 1089.34 1359.2 1090.94C1363.2 1092.54 1361.2 1091.72 1365.2 1093.41C1369.2 1095.1 1367.2 1094.24 1371.2 1096.01C1375.2 1097.78 1373.2 1096.88 1377.2 1098.72C1381.2 1100.57 1379.2 1099.63 1383.2 1101.55C1387.2 1103.47 1385.2 1102.5 1389.2 1104.49C1393.2 1106.47 1391.2 1105.47 1395.2 1107.51C1399.2 1109.55 1397.2 1108.52 1401.2 1110.62C1405.2 1112.71 1403.2 1111.66 1407.2 1113.8C1411.2 1115.94 1409.2 1114.86 1413.2 1117.05C1417.2 1119.23 1415.2 1118.13 1419.2 1120.34C1423.2 1122.56 1421.2 1121.45 1425.2 1123.69C1429.2 1125.93 1427.2 1124.8 1431.2 1127.06C1435.2 1129.32 1433.2 1128.19 1437.2 1130.46C1441.2 1132.72 1439.2 1131.59 1443.2 1133.86C1447.2 1136.13 1445.2 1135 1449.2 1137.27C1453.2 1139.54 1451.2 1138.41 1455.2 1140.67C1459.2 1142.92 1457.2 1141.8 1461.2 1144.04C1465.2 1146.28 1463.2 1145.17 1467.2 1147.39C1471.2 1149.6 1469.2 1148.51 1473.2 1150.69C1477.2 1152.87 1475.2 1151.79 1479.2 1153.94C1483.2 1156.09 1481.2 1155.03 1485.2 1157.13C1489.2 1159.23 1487.2 1158.19 1491.2 1160.25C1495.2 1162.3 1493.2 1161.29 1497.2 1163.28C1501.2 1165.27 1499.2 1164.3 1503.2 1166.23C1507.2 1168.16 1505.2 1167.21 1509.2 1169.07C1513.2 1170.93 1511.2 1170.02 1515.2 1171.81C1519.2 1173.6 1517.2 1172.73 1521.2 1174.43C1525.2 1176.14 1523.2 1175.31 1527.2 1176.93C1531.2 1178.56 1529.2 1177.77 1533.2 1179.3C1537.2 1180.84 1535.2 1180.1 1539.2 1181.54C1543.2 1182.98 1541.2 1182.28 1545.2 1183.62C1549.2 1184.97 1547.2 1184.32 1551.2 1185.56C1555.2 1186.8 1553.2 1186.21 1557.2 1187.35C1561.2 1188.48 1559.2 1187.94 1563.2 1188.97C1567.2 1190 1565.2 1189.51 1569.2 1190.43C1573.2 1191.35 1571.2 1190.92 1575.2 1191.72C1579.2 1192.53 1577.2 1192.16 1581.2 1192.85C1585.2 1193.54 1583.2 1193.22 1587.2 1193.79C1591.2 1194.37 1589.2 1194.11 1593.2 1194.57C1597.2 1195.02 1595.2 1194.82 1599.2 1195.16C1603.2 1195.5 1601.2 1195.36 1605.2 1195.57C1609.2 1195.79 1608.37 1195.72 1611.2 1195.81C1614.03 1195.9 1612.87 1195.84 1613.7 1195.86" fill="none" stroke="#1f77b4" stroke-width="2.25"/>
<g fill="#117733"><circle cx="311.17" cy="1171.5" r="4.25"/><circle cx="326.17" cy="1177.5" r="4.25"/><circle cx="334.17" cy="1165.83" r="4.25"/><circle cx="333.67" cy="1179.67" r="4.25"/><circle cx="368.33" cy="1150.33" r="4.25"/><circle cx="376.67" cy="1131.33" r="4.25"/><circle cx="407.17" cy="1142.5" r="4.25"/><circle cx="420.33" cy="1140.5" r="4.25"/><circle cx="459.17" cy="1113.33" r="4.25"/><circle cx="476.33" cy="1144.5" r="4.25"/><circle cx="490.33" cy="1064.5" r="4.25"/><circle cx="330.9" cy="1178.8" r="4.25"/><circle cx="555.33" cy="1075.33" r="4.25"/><circle cx="571.33" cy="1094.5" r="4.25"/><circle cx="665.33" cy="1084.17" r="4.25"/><circle cx="720" cy="1135.5" r="4.25"/><circle cx="723.33" cy="1135.33" r="4.25"/><circle cx="742.17" cy="1150.5" r="4.25"/><circle cx="763.33" cy="1141.17" r="4.25"/><circle cx="782" cy="1160.83" r="4.25"/><circle cx="784.5" cy="1158.33" r="4.25"/><circle cx="818.33" cy="1176.33" r="4.25"/><circle cx="862.17" cy="1184.5" r="4.25"/><circle cx="870.33" cy="1186.17" r="4.25"/><circle cx="910.33" cy="1183.33" r="4.25"/><circle cx="948.33" cy="1181.33" r="4.25"/><circle cx="955.33" cy="1186.33" r="4.25"/><circle cx="986.33" cy="1197.5" r="4.25"/><circle cx="1014.17" cy="1176.33" r="4.25"/><circle cx="1027.5" cy="1163.67" r="4.25"/><circle cx="1031.17" cy="1172.17" r="4.25"/><circle cx="1035.83" cy="1169.67" r="4.25"/><circle cx="1049.17" cy="1155.33" r="4.25"/><circle cx="1054.5" cy="1168.67" r="4.25"/><circle cx="1062.5" cy="1155.33" r="4.25"/><circle cx="1089.17" cy="1175.5" r="4.25"/><circle cx="1124.5" cy="1120.33" r="4.25"/><circle cx="1126.33" cy="1135" r="4.25"/><circle cx="1135.5" cy="1122.5" r="4.25"/><circle cx="1208" cy="1097.5" r="4.25"/><circle cx="1210" cy="1098.33" r="4.25"/><circle cx="1239.5" cy="1078.33" r="4.25"/><circle cx="1240.33" cy="1036.33" r="4.25"/><circle cx="1242.5" cy="1044.67" r="4.25"/><circle cx="1284.5" cy="1091.33" r="4.25"/><circle cx="1295" cy="1061.33" r="4.25"/><circle cx="1299.17" cy="1055.33" r="4.25"/><circle cx="1361.33" cy="1077.5" r="4.25"/><circle cx="1372.5" cy="1066.33" r="4.25"/><circle cx="1467.5" cy="1164.17" r="4.25"/><circle cx="1472.17" cy="1155.33" r="4.25"/><circle cx="1495.83" cy="1169.67" r="4.25"/><circle cx="1503.33" cy="1182.5" r="4.25"/><circle cx="1522.17" cy="1166.67" r="4.25"/><circle cx="1526.17" cy="1165.83" r="4.25"/><circle cx="1537.17" cy="1173.33" r="4.25"/><circle cx="1552.17" cy="1163.33" r="4.25"/><circle cx="1584.17" cy="1182.5" r="4.25"/><circle cx="1584.17" cy="1202.83" r="4.25"/></g>
<g fill="#882255"><circle cx="257.33" cy="1204.5" r="4.25"/><circle cx="322.5" cy="1186.17" r="4.25"/><circle cx="331.33" cy="1179.5" r="4.25"/><circle cx="345.33" cy="1185.5" r="4.25"/><circle cx="380.33" cy="1129.67" r="4.25"/><circle cx="433.33" cy="1147.5" r="4.25"/><circle cx="438.33" cy="1132.5" r="4.25"/><circle cx="441.17" cy="1106.33" r="4.25"/><circle cx="453.33" cy="1165.5" r="4.25"/><circle cx="471.33" cy="1130.33" r="4.25"/><circle cx="478" cy="1102.5" r="4.25"/><circle cx="509.17" cy="1152.5" r="4.25"/><circle cx="518.33" cy="1030.5" r="4.25"/><circle cx="538.33" cy="1001.33" r="4.25"/><circle cx="540.33" cy="1096.67" r="4.25"/><circle cx="543.33" cy="1089.17" r="4.25"/><circle cx="571.33" cy="1071.33" r="4.25"/><circle cx="621.33" cy="1055.33" r="4.25"/><circle cx="622.5" cy="1072.5" r="4.25"/><circle cx="637.17" cy="1080.33" r="4.25"/><circle cx="662.17" cy="1071.33" r="4.25"/><circle cx="664" cy="1067.5" r="4.25"/><circle cx="730.33" cy="1131.33" r="4.25"/><circle cx="748.33" cy="1143.33" r="4.25"/><circle cx="758.33" cy="1143.67" r="4.25"/><circle cx="792.5" cy="1153.33" r="4.25"/><circle cx="830.33" cy="1180.5" r="4.25"/><circle cx="899.17" cy="1150.33" r="4.25"/><circle cx="898.67" cy="1209.5" r="4.25"/><circle cx="903.33" cy="1202.83" r="4.25"/><circle cx="919.33" cy="1133.67" r="4.25"/><circle cx="952.17" cy="1205.5" r="4.25"/><circle cx="1013.33" cy="1185.5" r="4.25"/><circle cx="1096.33" cy="1143.33" r="4.25"/><circle cx="1122.17" cy="1147.5" r="4.25"/><circle cx="1127.17" cy="1098.33" r="4.25"/><circle cx="1130.33" cy="1128.67" r="4.25"/><circle cx="1149.5" cy="1095.5" r="4.25"/><circle cx="1159.5" cy="1119.5" r="4.25"/><circle cx="1213.33" cy="1104.5" r="4.25"/><circle cx="1216.33" cy="1108.33" r="4.25"/><circle cx="1252.5" cy="1030.5" r="4.25"/><circle cx="1273.67" cy="1048.33" r="4.25"/><circle cx="1323.33" cy="1088.33" r="4.25"/><circle cx="1327.5" cy="1072.5" r="4.25"/><circle cx="1381.33" cy="1108.33" r="4.25"/><circle cx="1418" cy="1132.5" r="4.25"/><circle cx="1419.5" cy="1127.17" r="4.25"/><circle cx="1435.33" cy="1120.5" r="4.25"/><circle cx="1435.33" cy="1126.33" r="4.25"/><circle cx="1445.33" cy="1136.17" r="4.25"/><circle cx="1462.5" cy="1134.17" r="4.25"/><circle cx="1467.83" cy="1151.67" r="4.25"/><circle cx="1498.33" cy="1171.17" r="4.25"/><circle cx="1581.33" cy="1191.17" r="4.25"/><circle cx="1591.33" cy="1189.5" r="4.25"/><circle cx="1600.33" cy="1207.5" r="4.25"/><circle cx="1609.5" cy="1194.5" r="4.25"/></g>
</g>
<g clip-path="url(#c3)">
<path d="M1000 1439.17V1505.83M1008 1485.5V1547.84M1016 1464.25V1530.09M1050 1410.5V1508.5M1074 1445.5V1512.16M1082 1453.84V1505.5M1098 1410V1488.34M1106 1459.5V1523.16M1119 1494.83V1554.17M1124 1451.75V1537.25M1138 1453.83V1517.17M1148 1406.5V1466.16M1153 1426.17V1478.83M1153 1461.66V1505M1157 1451.83V1494.83M1172 1460V1513.34M1172 1490V1526.66M1180 1481.59V1512.75M1188 1425.33V1471.33M1212 1450.33V1496.33M1217 1473.16V1507.5M1235 1471V1526.34M1243 1460.5V1493.84M1254 1474.92V1502.42M1262 1447.5V1479.16M1270 1480.25V1519.75M1402 1448.25V1500.75M1425 1478.33V1526.67M1431 1476.66V1530M1433 1485.1V1521.9M1312 1478.75V1514.25M1320 1462.2V1488.8M1325 1473V1499M1325 1481V1505M1325 1499.5V1519.5M1327 1465.5V1494.5M1329 1467.5V1491.5M1328 1472V1496M1330 1474V1504M1344 1475.5V1514.5M1355 1459.5V1493.5M1358 1436.25V1496.25M1360 1498V1534.5M1367 1465.25V1489.25M1368 1468.5V1512.5M1380 1485.25V1529.25M1380 1489.7V1541.3M1388 1447.05V1535.45M1515 1482.27V1524.93M1555 1470.27V1538.53M1568 1465.4V1573.8M1581 1498.53V1600.67M1597 1484.06V1550.6M1605 1486.27V1553.73M1613 1498V1568.66M232 1457.8V1501.4" stroke="#117733" stroke-width="2.08" fill="none"/>
<path d="M1000 1428.33V1492.67M1008 1484.17V1520.83M1034 1432.17V1486.83M1074 1449.58V1497.08M1082 1446.08V1494.92M1098 1486.75V1528.91M1106 1411.16V1451.5M1119 1385.17V1453.83M1123 1489.25V1523.41M1138 1474.5V1514.5M1146 1481.33V1523.67M1154 1496.16V1526.5M1167 1472V1510.66M1173 1474.16V1506.5M1173 1482.5V1509.16M1180 1444.16V1482.5M1188 1441.5V1475.16M1196 1461.42V1502.92M1212 1483V1511.34M1217 1453.42V1487.58M1243 1490.34V1517M1254 1499.91V1522.75M1262 1473.58V1504.08M1271 1488.59V1510.75M1288 1510.33V1532.33M1296 1483.33V1506.67M1401 1375.17V1439.83M1401 1487.66V1523M1426 1338V1438.66M1433 1488V1521M1320 1511.9V1535.1M1322 1493V1520M1329 1493V1516.5M1332 1480.5V1500.5M1337 1475.15V1495.35M1338 1512.25V1542.25M1342 1502V1531M1345 1488.5V1514.5M1355 1488.75V1509.75M1355 1500.5V1520.5M1360 1474.75V1504.25M1368 1467.85V1502.65M1381 1482.25V1514.25M1384 1496V1527M1389 1490V1525M1510 1499.2V1554.14M1518 1455.27V1507.93M1528 1423.47V1505.33M1547 1464.87V1522.33M1549 1486V1523.34M1555 1501.6V1537.6M1576 1434.07V1526.47M1581 1480V1530.66M1605 1542.53V1580.67M1613 1484V1522.66M1613 1497.6V1527.2M232 1560.7V1596.3M380 1407.1V1457.7" stroke="#882255" stroke-width="2.08" fill="none"/>
<path d="M225 1491H1620" stroke="#000" stroke-width="2.08" stroke-dasharray="7.71 3.33" fill="none"/>
<g fill="#117733"><circle cx="1000.33" cy="1472.5" r="4.25"/><circle cx="1008.33" cy="1516.67" r="4.25"/><circle cx="1016.33" cy="1497.17" r="4.25"/><circle cx="1050.17" cy="1459.5" r="4.25"/><circle cx="1074.17" cy="1478.83" r="4.25"/><circle cx="1082.33" cy="1479.67" r="4.25"/><circle cx="1098.17" cy="1449.17" r="4.25"/><circle cx="1106.33" cy="1491.33" r="4.25"/><circle cx="1119.17" cy="1524.5" r="4.25"/><circle cx="1124.17" cy="1494.5" r="4.25"/><circle cx="1138.17" cy="1485.5" r="4.25"/><circle cx="1148.33" cy="1436.33" r="4.25"/><circle cx="1153.33" cy="1452.5" r="4.25"/><circle cx="1153.33" cy="1483.33" r="4.25"/><circle cx="1156.67" cy="1473.33" r="4.25"/><circle cx="1172" cy="1486.67" r="4.25"/><circle cx="1172" cy="1508.33" r="4.25"/><circle cx="1180" cy="1497.17" r="4.25"/><circle cx="1188.33" cy="1448.33" r="4.25"/><circle cx="1212" cy="1473.33" r="4.25"/><circle cx="1217.17" cy="1490.33" r="4.25"/><circle cx="1235" cy="1498.67" r="4.25"/><circle cx="1243.17" cy="1477.17" r="4.25"/><circle cx="1254.17" cy="1488.67" r="4.25"/><circle cx="1262.17" cy="1463.33" r="4.25"/><circle cx="1270.17" cy="1500" r="4.25"/><circle cx="1402.17" cy="1474.5" r="4.25"/><circle cx="1425.33" cy="1502.5" r="4.25"/><circle cx="1431.17" cy="1503.33" r="4.25"/><circle cx="1433" cy="1503.5" r="4.25"/><circle cx="1312.4" cy="1496.5" r="4.25"/><circle cx="1320.25" cy="1475.5" r="4.25"/><circle cx="1325" cy="1486" r="4.25"/><circle cx="1324.5" cy="1493" r="4.25"/><circle cx="1325" cy="1509.5" r="4.25"/><circle cx="1326.5" cy="1480" r="4.25"/><circle cx="1329" cy="1479.5" r="4.25"/><circle cx="1327.5" cy="1484" r="4.25"/><circle cx="1330" cy="1489" r="4.25"/><circle cx="1343.5" cy="1495" r="4.25"/><circle cx="1354.5" cy="1476.5" r="4.25"/><circle cx="1357.5" cy="1466.25" r="4.25"/><circle cx="1359.5" cy="1516.25" r="4.25"/><circle cx="1367.25" cy="1477.25" r="4.25"/><circle cx="1367.5" cy="1490.5" r="4.25"/><circle cx="1380" cy="1507.25" r="4.25"/><circle cx="1380" cy="1515.5" r="4.25"/><circle cx="1388.25" cy="1491.25" r="4.25"/><circle cx="1515.33" cy="1503.6" r="4.25"/><circle cx="1555.33" cy="1504.4" r="4.25"/><circle cx="1568" cy="1519.6" r="4.25"/><circle cx="1581.2" cy="1549.6" r="4.25"/><circle cx="1597.07" cy="1517.33" r="4.25"/><circle cx="1605.07" cy="1520" r="4.25"/><circle cx="1613.33" cy="1533.33" r="4.25"/><circle cx="232.45" cy="1479.6" r="4.25"/></g>
<g fill="#882255"><circle cx="1000.33" cy="1460.5" r="4.25"/><circle cx="1008.33" cy="1502.5" r="4.25"/><circle cx="1034.33" cy="1459.5" r="4.25"/><circle cx="1074.17" cy="1473.33" r="4.25"/><circle cx="1082.33" cy="1470.5" r="4.25"/><circle cx="1098.17" cy="1507.83" r="4.25"/><circle cx="1106.33" cy="1431.33" r="4.25"/><circle cx="1119.17" cy="1419.5" r="4.25"/><circle cx="1122.5" cy="1506.33" r="4.25"/><circle cx="1138.17" cy="1494.5" r="4.25"/><circle cx="1146.17" cy="1502.5" r="4.25"/><circle cx="1154.17" cy="1511.33" r="4.25"/><circle cx="1167.17" cy="1491.33" r="4.25"/><circle cx="1172.5" cy="1490.33" r="4.25"/><circle cx="1172.5" cy="1495.83" r="4.25"/><circle cx="1180" cy="1463.33" r="4.25"/><circle cx="1188.33" cy="1458.33" r="4.25"/><circle cx="1196.33" cy="1482.17" r="4.25"/><circle cx="1212" cy="1497.17" r="4.25"/><circle cx="1217.17" cy="1470.5" r="4.25"/><circle cx="1243.17" cy="1503.67" r="4.25"/><circle cx="1254.17" cy="1511.33" r="4.25"/><circle cx="1262.17" cy="1488.83" r="4.25"/><circle cx="1270.5" cy="1499.67" r="4.25"/><circle cx="1288" cy="1521.33" r="4.25"/><circle cx="1296.17" cy="1495" r="4.25"/><circle cx="1401.33" cy="1407.5" r="4.25"/><circle cx="1401.33" cy="1505.33" r="4.25"/><circle cx="1426.33" cy="1388.33" r="4.25"/><circle cx="1433.3" cy="1504.5" r="4.25"/><circle cx="1320.25" cy="1523.5" r="4.25"/><circle cx="1322" cy="1506.5" r="4.25"/><circle cx="1329" cy="1504.75" r="4.25"/><circle cx="1332" cy="1490.5" r="4.25"/><circle cx="1336.75" cy="1485.25" r="4.25"/><circle cx="1338.25" cy="1527.25" r="4.25"/><circle cx="1341.75" cy="1516.5" r="4.25"/><circle cx="1344.5" cy="1501.5" r="4.25"/><circle cx="1354.5" cy="1499.25" r="4.25"/><circle cx="1354.5" cy="1510.5" r="4.25"/><circle cx="1359.5" cy="1489.5" r="4.25"/><circle cx="1367.5" cy="1485.25" r="4.25"/><circle cx="1380.5" cy="1498.25" r="4.25"/><circle cx="1383.5" cy="1511.5" r="4.25"/><circle cx="1388.5" cy="1507.5" r="4.25"/><circle cx="1510.27" cy="1526.67" r="4.25"/><circle cx="1518.27" cy="1481.6" r="4.25"/><circle cx="1528.27" cy="1464.4" r="4.25"/><circle cx="1547.33" cy="1493.6" r="4.25"/><circle cx="1549.2" cy="1504.67" r="4.25"/><circle cx="1555.07" cy="1519.6" r="4.25"/><circle cx="1576.13" cy="1480.27" r="4.25"/><circle cx="1581.2" cy="1505.33" r="4.25"/><circle cx="1605.07" cy="1561.6" r="4.25"/><circle cx="1613.33" cy="1503.33" r="4.25"/><circle cx="1613.33" cy="1512.4" r="4.25"/><circle cx="232.45" cy="1578.5" r="4.25"/><circle cx="380.45" cy="1432.4" r="4.25"/></g>
</g>
<path d="M291.5 483.5v4.86M555.5 483.5v4.86M820.5 483.5v4.86M1085.5 483.5v4.86M1349.5 483.5v4.86M1614.5 483.5v4.86M225.5 229.5h-4.86M225.5 342.5h-4.86M225.5 456.5h-4.86" stroke="#000" stroke-width="1.11" fill="none"/>
<rect x="225.5" y="216.5" width="1395" height="267" fill="none" stroke="#000" stroke-width="1.11"/>
<path d="M231.5 856.5v4.86M508.5 856.5v4.86M784.5 856.5v4.86M1060.5 856.5v4.86M1337.5 856.5v4.86M1613.5 856.5v4.86M225.5 692.5h-4.86M225.5 854.5h-4.86" stroke="#000" stroke-width="1.11" fill="none"/>
<rect x="225.5" y="589.5" width="1395" height="267" fill="none" stroke="#000" stroke-width="1.11"/>
<path d="M232.5 1229.5v4.86M469.5 1229.5v4.86M707.5 1229.5v4.86M944.5 1229.5v4.86M1182.5 1229.5v4.86M1419.5 1229.5v4.86M225.5 975.5h-4.86M225.5 1088.5h-4.86M225.5 1202.5h-4.86" stroke="#000" stroke-width="1.11" fill="none"/>
<rect x="225.5" y="962.5" width="1395" height="267" fill="none" stroke="#000" stroke-width="1.11"/>
<path d="M291.5 1602.5v4.86M555.5 1602.5v4.86M820.5 1602.5v4.86M1085.5 1602.5v4.86M1349.5 1602.5v4.86M1614.5 1602.5v4.86M225.5 1339.5h-4.86M225.5 1491.5h-4.86" stroke="#000" stroke-width="1.11" fill="none"/>
<rect x="225.5" y="1335.5" width="1395" height="267" fill="none" stroke="#000" stroke-width="1.11"/>
<text transform="translate(660.12 67) scale(0.9500 1)" font-size="42.4" x="1.63 28.47 55.25 82.03 108.8 134.77 147.29 171.94 184.14 210.91 238.45 253.45 265.41 296.96 323.73 341.31 365.51 391.08 402.18 430.09 441.76 468.85 483.42" y="0">13012 Light Curve Plots</text>
<text transform="translate(831.94 557.22) scale(0.9500 1)" font-size="35.33" x="-3.7 11.56 33.44 43.18 52.88 74.72 96.34 107.64 134.84 157.32 170.04" y="0">Julian Date</text>
<text transform="translate(127.3 417.21) rotate(-90) scale(0.9500 1)" font-size="35.33" x="0.4 27 38.45 53.64 86.42 108.33 130.31" y="0">H (mag)</text>
<text transform="translate(1305.88 555.43) scale(0.9500 1)" font-size="35.33" x="1.57 30.77 52.59 64.52 86.89 109.19 131.49 153.86 176.23 198.6 220.97 243.33 265.7 287.68 309.65" y="0"><tspan font-size="44.87" dy="3.3">+</tspan><tspan dy="-3.3">2.4580000000e6</tspan></text>
<text transform="translate(259.42 518.26) scale(0.9500 1)" font-size="35.33" x="1.36 23.73 46.1" y="0">400</text>
<text transform="translate(524.08 518.26) scale(0.9500 1)" font-size="35.33" x="1.36 23.73 46.1" y="0">500</text>
<text transform="translate(788.73 518.26) scale(0.9500 1)" font-size="35.33" x="1.36 23.73 46.1" y="0">600</text>
<text transform="translate(1053.39 518.26) scale(0.9500 1)" font-size="35.33" x="1.36 23.73 46.1" y="0">700</text>
<text transform="translate(1318.11 518.26) scale(0.9500 1)" font-size="35.33" x="1.29 23.6 45.97" y="0">800</text>
<text transform="translate(1582.7 518.26) scale(0.9500 1)" font-size="35.33" x="1.36 23.73 46.1" y="0">900</text>
<text transform="translate(140.65 468.65) scale(0.9500 1)" font-size="35.33" x="1.36 23.79 45.62 57.54" y="0">12.5</text>
<text transform="translate(140.78 355.29) scale(0.9500 1)" font-size="35.33" x="1.36 23.73 45.49 57.41" y="0">13.0</text>
<text transform="translate(140.78 241.94) scale(0.9500 1)" font-size="35.33" x="1.36 23.73 45.49 57.41" y="0">13.5</text>
<text transform="translate(713.38 930.37) scale(0.9500 1)" font-size="35.33" x="-0.52 24.65 46.41 59.05 81.53 94.23 104 125.9 147.74 169.23 178.71 188.02 210.7 232.01 246.08 255.83 277.81 299.5 310.96 324.09 350.97 372.87 395.17 408.6 427.54" y="0">Rotational Period (Hours)</text>
<text transform="translate(147.9 804.44) rotate(-90) scale(0.9500 1)" font-size="35.33" x="-0.09 19.58 30.85 54.5 63.81 86.49 108.03 136.1 158.06" y="0">L-S Power</text>
<text transform="translate(221.28 891.41) scale(0.9500 1)" font-size="35.33" x="1.36" y="0">0</text>
<text transform="translate(465.7 891.41) scale(0.9500 1)" font-size="35.33" x="1.36 23.73 46.1 68.47" y="0">1000</text>
<text transform="translate(741.93 891.41) scale(0.9500 1)" font-size="35.33" x="1.43 23.86 46.23 68.6" y="0">2000</text>
<text transform="translate(1018.28 891.41) scale(0.9500 1)" font-size="35.33" x="1.36 23.73 46.1 68.47" y="0">3000</text>
<text transform="translate(1294.58 891.41) scale(0.9500 1)" font-size="35.33" x="1.36 23.73 46.1 68.47" y="0">4000</text>
<text transform="translate(1570.87 891.41) scale(0.9500 1)" font-size="35.33" x="1.36 23.73 46.1 68.47" y="0">5000</text>
<text transform="translate(162.03 867.1) scale(0.9500 1)" font-size="35.33" x="1.36 23.12 35.04" y="0">0.0</text>
<text transform="translate(162.03 705.21) scale(0.9500 1)" font-size="35.33" x="1.36 23.12 35.04" y="0">0.5</text>
<text transform="translate(807.5 1303.52) scale(0.9500 1)" font-size="35.33" x="-1.19 22.48 44.32 65.18 84.12 105.42 116.88 130.9 152.81 174.72 197.01 210.44 229.38" y="0">Phase (hours)</text>
<text transform="translate(127.3 1163.51) rotate(-90) scale(0.9500 1)" font-size="35.33" x="0.4 27 38.45 53.64 86.42 108.33 130.31" y="0">H (mag)</text>
<text transform="translate(221.87 1264.57) scale(0.9500 1)" font-size="35.33" x="1.36" y="0">0</text>
<text transform="translate(459.27 1264.57) scale(0.9500 1)" font-size="35.33" x="1.36" y="0">1</text>
<text transform="translate(696.61 1264.57) scale(0.9500 1)" font-size="35.33" x="1.43" y="0">2</text>
<text transform="translate(934.07 1264.57) scale(0.9500 1)" font-size="35.33" x="1.36" y="0">3</text>
<text transform="translate(1171.47 1264.57) scale(0.9500 1)" font-size="35.33" x="1.36" y="0">4</text>
<text transform="translate(1408.87 1264.57) scale(0.9500 1)" font-size="35.33" x="1.36" y="0">5</text>
<text transform="translate(140.65 1214.95) scale(0.9500 1)" font-size="35.33" x="1.36 23.79 45.62 57.54" y="0">12.5</text>
<text transform="translate(140.78 1101.6) scale(0.9500 1)" font-size="35.33" x="1.36 23.73 45.49 57.41" y="0">13.0</text>
<text transform="translate(140.78 988.25) scale(0.9500 1)" font-size="35.33" x="1.36 23.73 45.49 57.41" y="0">13.5</text>
<text transform="translate(831.94 1676.68) scale(0.9500 1)" font-size="35.33" x="-3.7 11.56 33.44 43.18 52.88 74.72 96.34 107.64 134.84 157.32 170.04" y="0">Julian Date</text>
<text transform="translate(152.2 1552.26) rotate(-90) scale(0.9500 1)" font-size="35.33" x="-0.52 24.65 44.78 63.71 73.86 96.16 118 139.5 148.6" y="0">Residuals</text>
<text transform="translate(1305.88 1674.89) scale(0.9500 1)" font-size="35.33" x="1.57 30.77 52.59 64.52 86.89 109.19 131.49 153.86 176.23 198.6 220.97 243.33 265.7 287.68 309.65" y="0"><tspan font-size="44.87" dy="3.3">+</tspan><tspan dy="-3.3">2.4580000000e6</tspan></text>
<text transform="translate(259.42 1637.72) scale(0.9500 1)" font-size="35.33" x="1.36 23.73 46.1" y="0">400</text>
<text transform="translate(524.08 1637.72) scale(0.9500 1)" font-size="35.33" x="1.36 23.73 46.1" y="0">500</text>
<text transform="translate(788.73 1637.72) scale(0.9500 1)" font-size="35.33" x="1.36 23.73 46.1" y="0">600</text>
<text transform="translate(1053.39 1637.72) scale(0.9500 1)" font-size="35.33" x="1.36 23.73 46.1" y="0">700</text>
<text transform="translate(1318.11 1637.72) scale(0.9500 1)" font-size="35.33" x="1.29 23.6 45.97" y="0">800</text>
<text transform="translate(1582.7 1637.72) scale(0.9500 1)" font-size="35.33" x="1.36 23.73 46.1" y="0">900</text>
<text transform="translate(162.03 1504.01) scale(0.9500 1)" font-size="35.33" x="1.36 23.12 35.04" y="0">0.0</text>
<text transform="translate(162.03 1352.49) scale(0.9500 1)" font-size="35.33" x="1.36 23.12 35.04" y="0">0.5</text>
<text transform="translate(923 615.6) scale(0.9500 1)" font-size="35.33" x="-1.19 21.49 42.8 56.86 66.63 88.6 110.62 122.13 133.99 155.75 167.61 189.91 212.28 233.97 245.77" y="0">Period: 5.816 h</text>
</svg></body></html>
